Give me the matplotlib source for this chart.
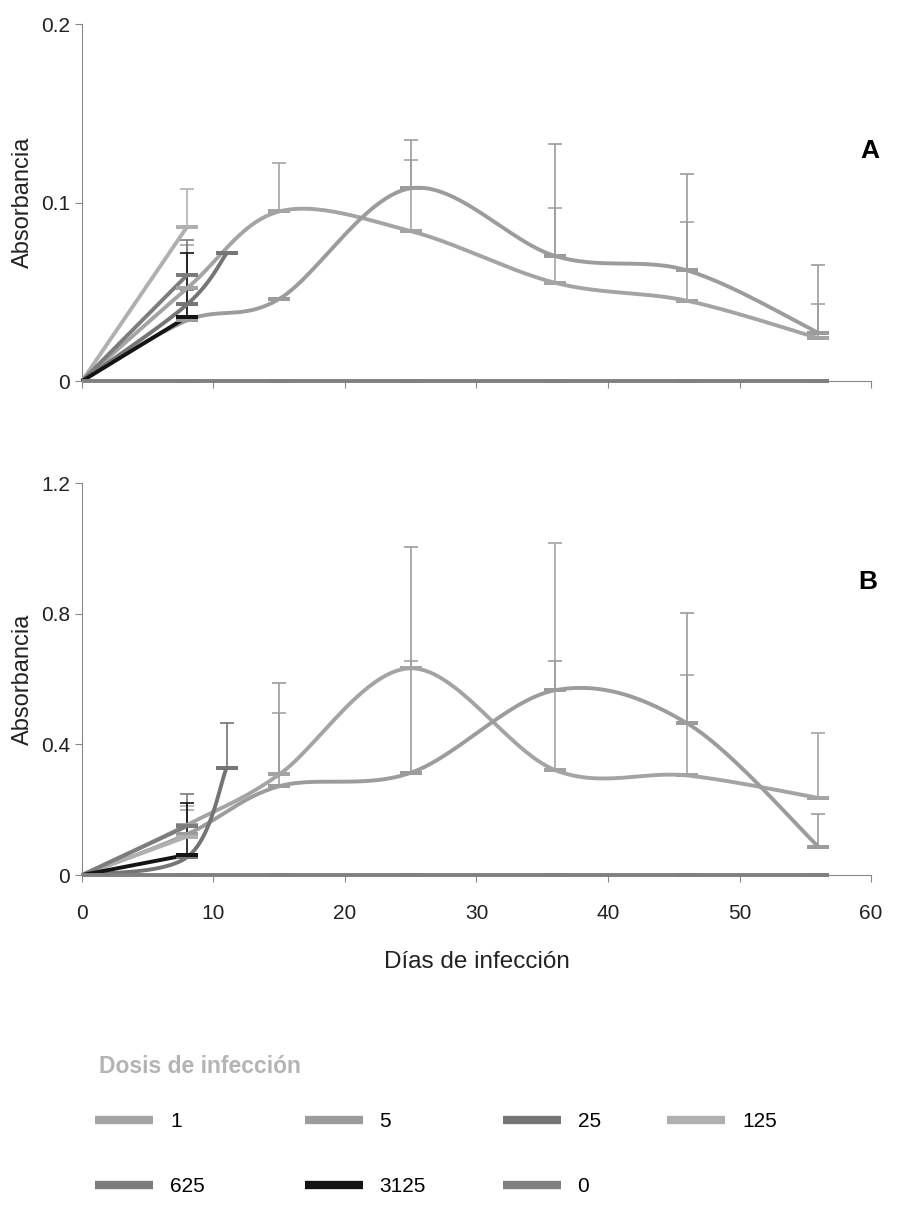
import numpy as np
import matplotlib
matplotlib.use("Agg")
import matplotlib.pyplot as plt
from matplotlib.lines import Line2D

plt.rcParams['font.family'] = ['Liberation Sans', 'DejaVu Sans']

# days post infection
x_long = [0, 8, 15, 25, 36, 46, 56]
x_8 = [0, 8]
x_11 = [0, 8, 11]

doses = ['1', '5', '25', '125', '625', '3125', '0']
colors = {'1': '#a4a4a4', '5': '#9c9c9c', '25': '#757575', '125': '#b0b0b0',
          '625': '#7c7c7c', '3125': '#141414', '0': '#808080'}

# panel A (absorbance), upper error bar tops
a_1 = [0, 0.052, 0.095, 0.084, 0.055, 0.045, 0.024]
a_1_top = [0, 0.076, 0.122, 0.124, 0.097, 0.089, 0.043]
a_5 = [0, 0.034, 0.046, 0.108, 0.070, 0.062, 0.027]
a_5_top = [0, 0.043, 0.046, 0.135, 0.133, 0.116, 0.065]
a_25 = [0, 0.043, 0.0715]
a_25_top = [0, 0.051, 0.0715]
a_125 = [0, 0.0865]
a_125_top = [0, 0.1075]
a_625 = [0, 0.0594]
a_625_top = [0, 0.079]
a_3125 = [0, 0.036]
a_3125_top = [0, 0.072]
a_0 = [0, 0, 0, 0, 0, 0, 0]

# panel B
b_1 = [0, 0.154, 0.308, 0.633, 0.321, 0.305, 0.236]
b_1_top = [0, 0.198, 0.495, 0.655, 1.015, 0.612, 0.434]
b_5 = [0, 0.125, 0.272, 0.313, 0.566, 0.465, 0.087]
b_5_top = [0, 0.125, 0.587, 1.003, 0.654, 0.803, 0.188]
b_25 = [0, 0.055, 0.328]
b_25_top = [0, 0.055, 0.465]
b_125 = [0, 0.118]
b_125_top = [0, 0.21]
b_625 = [0, 0.150]
b_625_top = [0, 0.249]
b_3125 = [0, 0.062]
b_3125_top = [0, 0.22]
b_0 = [0, 0, 0, 0, 0, 0, 0]


def smooth(xs, ys, n=30):
    # bezier smoothing like a spreadsheet "smoothed line"
    p = np.column_stack([xs, ys]).astype(float)
    if len(p) < 3:
        return p[:, 0], p[:, 1]
    ext = np.vstack([p[0], p, p[-1]])
    out = []
    for i in range(1, len(ext) - 2):
        p0, p1, p2, p3 = ext[i - 1], ext[i], ext[i + 1], ext[i + 2]
        c1 = p1 + (p2 - p0) / 6
        c2 = p2 - (p3 - p1) / 6
        t = np.linspace(0, 1, n)[:, None]
        seg = (1 - t) ** 3 * p1 + 3 * (1 - t) ** 2 * t * c1 + 3 * (1 - t) * t ** 2 * c2 + t ** 3 * p2
        out.append(seg if i == 1 else seg[1:])
    out = np.vstack(out)
    return out[:, 0], out[:, 1]


def draw(ax, series):
    for dose, xs, ys, tops in series:
        c = colors[dose]
        sx, sy = smooth(xs, ys)
        ax.plot(sx, sy, color=c, lw=2.8, solid_capstyle='butt', zorder=3, clip_on=False)
        err = np.array(tops) - np.array(ys)
        ax.errorbar(xs[1:], ys[1:], yerr=[np.zeros(len(xs) - 1), err[1:]], fmt='none',
                    ecolor=c, elinewidth=1.2, capsize=5, capthick=1.2, zorder=2)
        ax.errorbar(xs[1:], ys[1:], yerr=0, fmt='none', ecolor=c, capsize=8,
                    capthick=2.8, elinewidth=0, zorder=4, clip_on=False)


def style(ax, ymax, yticks, yticklabels, show_x):
    ax.set_xlim(0, 60)
    ax.set_ylim(0, ymax)
    ax.set_yticks(yticks)
    ax.set_yticklabels(yticklabels)
    ax.set_xticks(range(0, 61, 10))
    if not show_x:
        ax.set_xticklabels([])
    for s in ['top', 'right']:
        ax.spines[s].set_visible(False)
    for s in ['left', 'bottom']:
        ax.spines[s].set_color('#888888')
        ax.spines[s].set_linewidth(0.8)
    ax.tick_params(colors='#888888', labelcolor='#222222', labelsize=15, length=5, width=0.8)
    ax.tick_params(axis='x', pad=16)
    ax.set_ylabel('Absorbancia', fontsize=17, color='#222222', labelpad=5)
    ax.patch.set_alpha(0)


fig = plt.figure(figsize=(9.04, 12.07), dpi=100)
axA = fig.add_axes([0.0907, 0.6843, 0.8728, 0.2958])
axB = fig.add_axes([0.0907, 0.2750, 0.8728, 0.3248])

draw(axA, [('1', x_long, a_1, a_1_top), ('5', x_long, a_5, a_5_top),
           ('25', x_11, a_25, a_25_top), ('125', x_8, a_125, a_125_top),
           ('625', x_8, a_625, a_625_top), ('3125', x_8, a_3125, a_3125_top),
           ('0', x_long, a_0, a_0)])
draw(axB, [('1', x_long, b_1, b_1_top), ('5', x_long, b_5, b_5_top),
           ('25', x_11, b_25, b_25_top), ('125', x_8, b_125, b_125_top),
           ('625', x_8, b_625, b_625_top), ('3125', x_8, b_3125, b_3125_top),
           ('0', x_long, b_0, b_0)])

style(axA, 0.2, [0, 0.1, 0.2], ['0', '0.1', '0.2'], False)
style(axB, 1.2, [0, 0.4, 0.8, 1.2], ['0', '0.4', '0.8', '1.2'], True)
axB.set_xlabel('Días de infección', fontsize=17.5, color='#222222', labelpad=20)

axA.text(1.010, 0.644, 'A', transform=axA.transAxes, fontsize=19, fontweight='bold',
         ha='right', va='center')
axB.text(1.008, 0.747, 'B', transform=axB.transAxes, fontsize=19, fontweight='bold',
         ha='right', va='center')

# legend, four columns filled row by row
fig.text(0.110, 0.116, 'Dosis de infección', fontsize=16.5, fontweight='bold',
         color='#b4b4b4', va='center')
columns = [['1', '625'], ['5', '3125'], ['25', '0'], ['125']]
col_x = [0.105, 0.337, 0.556, 0.738]
for names, cx in zip(columns, col_x):
    handles = [Line2D([], [], color=colors[d], lw=6, solid_capstyle='butt') for d in names]
    fig.legend(handles, names, loc='upper left', bbox_to_anchor=(cx, 0.0785),
               frameon=False, fontsize=15, handlelength=2.8, handletextpad=0.8,
               labelspacing=2.2, borderpad=0, borderaxespad=0)

fig.savefig('out.png', dpi=100)
